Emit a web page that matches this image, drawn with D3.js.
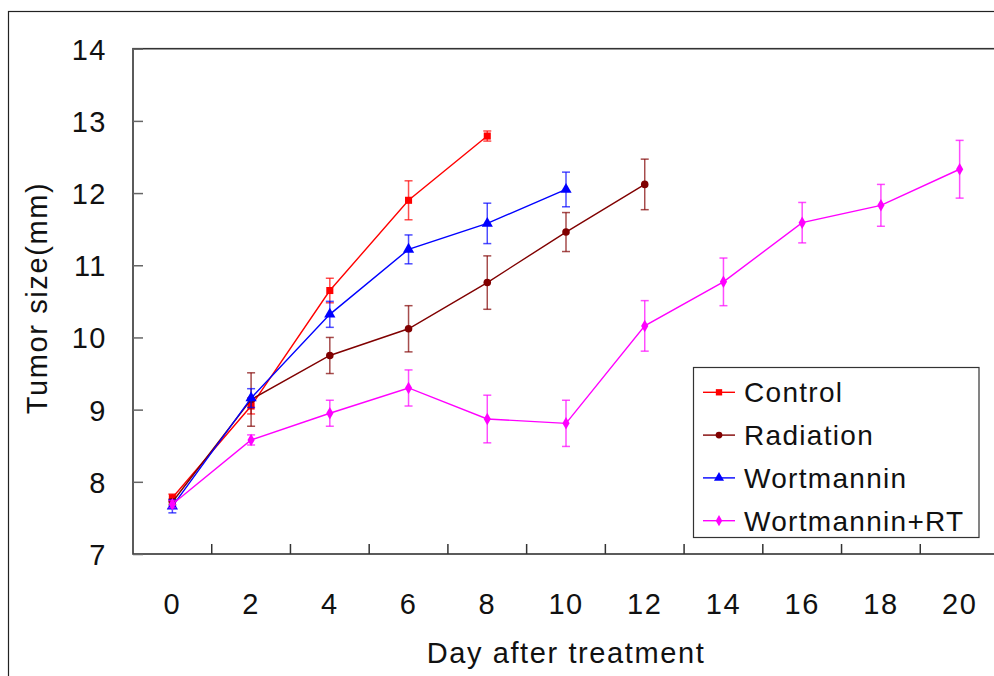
<!DOCTYPE html>
<html>
<head>
<meta charset="utf-8">
<script src="https://cdn.jsdelivr.net/npm/d3@7/dist/d3.min.js"></script>
<style>
  body { margin: 0; background: #fff; }
  text { font-family: "Liberation Sans", Arial, sans-serif; fill: #111; }
</style>
</head>
<body>
<div id="container"></div>
<script>
const width = 994
const height = 676

// data
const days = [0, 2, 4, 6, 8, 10, 12, 14, 16, 18, 20]
const yTicks = [7, 8, 9, 10, 11, 12, 13, 14]

const controlMean = [7.78, 9.05, 10.65, 11.90, 12.79]
const controlErr = [0.05, 0.11, 0.17, 0.27, 0.07]
const radiationMean = [7.72, 9.14, 9.75, 10.12, 10.76, 11.46, 12.12]
const radiationErr = [0.04, 0.37, 0.25, 0.32, 0.37, 0.27, 0.35]
const wortMean = [7.66, 9.16, 10.32, 11.22, 11.58, 12.05]
const wortErr = [0.09, 0.13, 0.18, 0.2, 0.28, 0.24]
const wortRtMean = [7.69, 8.58, 8.95, 9.30, 8.87, 8.81, 10.16, 10.77, 11.59, 11.83, 12.33]
const wortRtErr = [0.05, 0.07, 0.18, 0.25, 0.33, 0.32, 0.35, 0.33, 0.28, 0.29, 0.4]

const seriesNames = ['Control', 'Radiation', 'Wortmannin', 'Wortmannin+RT']
const seriesColors = ['#ff0000', '#800000', '#0000ff', '#ff00ff']
const seriesSymbols = [d3.symbolSquare, d3.symbolCircle, d3.symbolTriangle, d3.symbolDiamond]
const seriesSizes = [50, 45, 55, 45]

const series = [
  [controlMean, controlErr],
  [radiationMean, radiationErr],
  [wortMean, wortErr],
  [wortRtMean, wortRtErr]
].map(([m, e], i) => ({
  name: seriesNames[i],
  color: seriesColors[i],
  symbol: seriesSymbols[i],
  size: seriesSizes[i],
  points: m.map((v, j) => ({ day: days[j], v: v, e: e[j] }))
}))

const svg = d3.select('#container')
  .append('svg')
  .attr('width', width)
  .attr('height', height)

// outer frame (runs past the right and bottom edges)
svg.append('rect')
  .attr('x', 8.5).attr('y', 11.5)
  .attr('width', 1100).attr('height', 800)
  .attr('fill', 'none').attr('stroke', '#222').attr('stroke-width', 1.2)

const plotLeft = 133, plotTop = 48.7, plotRight = 999, plotBottom = 554

const x = d3.scaleBand().domain(days).range([plotLeft, plotRight])
const cx = d => x(d) + x.bandwidth() / 2
const y = d3.scaleLinear().domain([7, 14]).range([plotBottom, plotTop])

// plot frame
svg.append('rect')
  .attr('x', plotLeft).attr('y', plotTop)
  .attr('width', plotRight - plotLeft).attr('height', plotBottom - plotTop)
  .attr('fill', 'none').attr('stroke', '#333').attr('stroke-width', 1.6)

// y axis
const yAxis = svg.append('g')
  .attr('transform', `translate(${plotLeft},0)`)
  .call(d3.axisLeft(y).tickValues(yTicks).tickSize(-10).tickPadding(26).tickFormat(d3.format('d')))
yAxis.select('.domain').remove()
yAxis.selectAll('.tick line').attr('stroke', '#666').attr('stroke-width', 1.5)
yAxis.selectAll('.tick text')
  .style('font-size', '29px').style('letter-spacing', '1.5px')
  .attr('dy', '0.36em').attr('fill', '#111')

// x axis labels centered in bands, tick marks between bands
const xAxis = svg.append('g')
  .attr('transform', `translate(0,${plotBottom})`)
  .call(d3.axisBottom(x).tickSize(0).tickPadding(39))
xAxis.select('.domain').remove()
xAxis.selectAll('.tick text')
  .style('font-size', '29px').style('letter-spacing', '1.5px')
  .attr('fill', '#111')

svg.append('g')
  .selectAll('line')
  .data(days.slice(1))
  .join('line')
  .attr('x1', d => x(d)).attr('x2', d => x(d))
  .attr('y1', plotBottom).attr('y2', plotBottom - 10)
  .attr('stroke', '#333').attr('stroke-width', 1.5)

// axis titles
svg.append('text')
  .attr('x', 566).attr('y', 663)
  .attr('text-anchor', 'middle')
  .style('font-size', '29px').style('letter-spacing', '1.6px')
  .text('Day after treatment')

svg.append('text')
  .attr('transform', 'translate(47,298) rotate(-90)')
  .attr('text-anchor', 'middle')
  .style('font-size', '29px').style('letter-spacing', '1.6px')
  .text('Tumor size(mm)')

const line = d3.line().x(d => cx(d.day)).y(d => y(d.v))

const groups = svg.selectAll('g.series')
  .data(series)
  .join('g')
  .attr('class', 'series')

// error bars
groups.each(function (s) {
  const g = d3.select(this)
  const eb = g.selectAll('g.err').data(s.points).join('g')
    .attr('class', 'err')
    .attr('stroke', s.color).attr('stroke-opacity', 0.7).attr('stroke-width', 1.5)
  eb.append('line')
    .attr('x1', d => cx(d.day)).attr('x2', d => cx(d.day))
    .attr('y1', d => y(d.v - d.e)).attr('y2', d => y(d.v + d.e))
  eb.append('line')
    .attr('x1', d => cx(d.day) - 4).attr('x2', d => cx(d.day) + 4)
    .attr('y1', d => y(d.v + d.e)).attr('y2', d => y(d.v + d.e))
  eb.append('line')
    .attr('x1', d => cx(d.day) - 4).attr('x2', d => cx(d.day) + 4)
    .attr('y1', d => y(d.v - d.e)).attr('y2', d => y(d.v - d.e))
})

groups.append('path')
  .attr('d', d => line(d.points))
  .attr('fill', 'none')
  .attr('stroke', d => d.color)
  .attr('stroke-width', 1.4)

groups.each(function (s) {
  d3.select(this).selectAll('path.mark').data(s.points).join('path')
    .attr('class', 'mark')
    .attr('transform', d => `translate(${cx(d.day)},${y(d.v)})`)
    .attr('d', d3.symbol().type(s.symbol).size(s.size))
    .attr('fill', s.color)
})

// legend
const legend = svg.append('g')
legend.append('rect')
  .attr('x', 693.5).attr('y', 367.5)
  .attr('width', 285.5).attr('height', 170)
  .attr('fill', '#fff').attr('stroke', '#333').attr('stroke-width', 1.2)

const items = legend.selectAll('g.item')
  .data(series)
  .join('g')
  .attr('class', 'item')
  .attr('transform', (d, i) => `translate(0,${392.3 + i * 42.8})`)

items.append('line')
  .attr('x1', 703).attr('x2', 735)
  .attr('stroke', d => d.color).attr('stroke-width', 1.4)
items.append('path')
  .attr('transform', 'translate(719,0)')
  .attr('d', d => d3.symbol().type(d.symbol).size(d.size * 0.8)())
  .attr('fill', d => d.color)
items.append('text')
  .attr('x', 744).attr('dy', '0.36em')
  .style('font-size', '28px').style('letter-spacing', '1.3px')
  .text(d => d.name)
</script>
</body>
</html>
